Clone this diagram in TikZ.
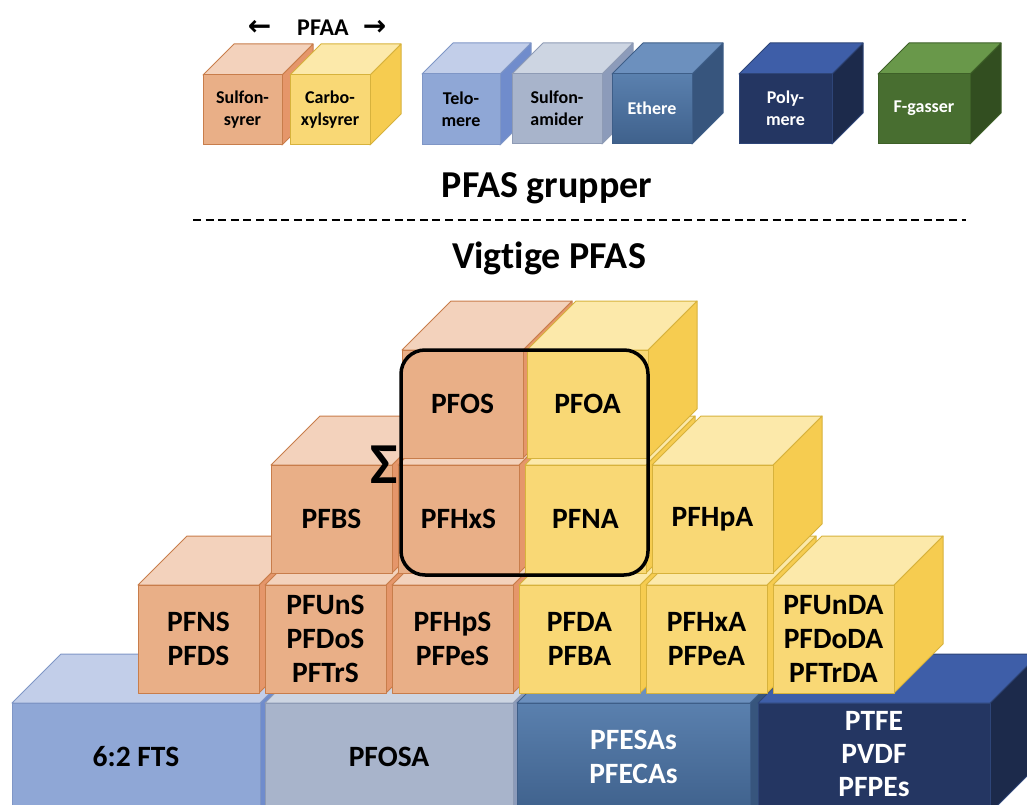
\documentclass[tikz,border=0pt]{standalone}
\usepackage{fontspec}
\setmainfont{Carlito}[Ligatures=NoCommon]
\newfontfamily\arrowfont{DejaVu Sans}

% colour sets: front, top, side, line
\definecolor{sulffront}{HTML}{E9AF87}
\definecolor{sulftop}{HTML}{F3D2BC}
\definecolor{sulfside}{HTML}{E5966A}
\definecolor{sulfline}{HTML}{C87D4B}
\definecolor{carbfront}{HTML}{F9D875}
\definecolor{carbtop}{HTML}{FCE9AA}
\definecolor{carbside}{HTML}{F6CC50}
\definecolor{carbline}{HTML}{D7B23C}
\definecolor{telofront}{HTML}{8FA7D6}
\definecolor{telotop}{HTML}{C2CEE9}
\definecolor{teloside}{HTML}{708CCC}
\definecolor{teloline}{HTML}{7F96C6}
\definecolor{amidfront}{HTML}{A8B4CB}
\definecolor{amidtop}{HTML}{CDD5E2}
\definecolor{amidside}{HTML}{8C9BBA}
\definecolor{amidline}{HTML}{8E9BB5}
\definecolor{ethfront}{HTML}{4B709B}
\definecolor{ethtop}{HTML}{6C90BE}
\definecolor{ethside}{HTML}{37557D}
\definecolor{ethline}{HTML}{3E5E88}
\definecolor{ethlight}{HTML}{5A80AE}
\definecolor{ethdark}{HTML}{3F618C}
\definecolor{polyfront}{HTML}{243662}
\definecolor{polytop}{HTML}{3E5EA8}
\definecolor{polyside}{HTML}{1C2A4B}
\definecolor{polyline}{HTML}{2E4578}
\definecolor{gasfront}{HTML}{486E30}
\definecolor{gastop}{HTML}{69984A}
\definecolor{gasside}{HTML}{324E20}
\definecolor{gasline}{HTML}{3E6028}

% cube: x, y (front top left), width, height, depth, colour set
\newcommand{\drawcube}[6]{%
  \filldraw[fill=#6side, draw=#6line] (#1+#3,#2) -- ++(#5,-#5) -- ++(0,#4) -- ++(-#5,#5) -- cycle;
  \filldraw[fill=#6top, draw=#6line] (#1,#2) -- ++(#5,-#5) -- ++(#3,0) -- ++(-#5,#5) -- cycle;
  \filldraw[fill=#6front, draw=#6line] (#1,#2) rectangle ++(#3,#4);
}

\begin{document}
\begin{tikzpicture}[x=1pt, y=-1pt, line join=round, line width=1pt,
  lbl/.style={align=center, font=\fontsize{29.5}{34}\selectfont\bfseries},
  leg/.style={align=center, font=\fontsize{18}{22}\selectfont\bfseries},
  heading/.style={font=\fontsize{38}{45}\selectfont\bfseries},
  shine/.style={top color=ethlight, bottom color=ethdark, draw=ethline}]
\useasboundingbox (0,0) rectangle (1027,805);
\clip (0,0) rectangle (1027,805);

% PFAS groups
\drawcube{203}{75}{79}{70}{31}{sulf}
\drawcube{290}{75}{80}{70}{31}{carb}
\drawcube{422}{74}{78}{71}{31}{telo}
\drawcube{512}{74}{90}{70}{31}{amid}
\drawcube{612}{74}{80}{70}{31}{eth}
\shadedraw[shine] (612,74) rectangle ++(80,70);
\drawcube{739}{74}{93}{70}{31}{poly}
\drawcube{878}{74}{92}{70}{31}{gas}

\node[leg] (sulfon) at (242.5,110) {Sulfon-\\syrer};
\node[leg] (carbo) at (330,110) {Carbo-\\xylsyrer};
\node[leg] (telo) at (461,109) {Telo-\\mere};
\node[leg] (amid) at (557,108) {Sulfon-\\amider};
\node[leg, text=white] (ether) at (652,108) {Ethere};
\node[leg, text=white] (poly) at (785.5,108) {Poly-\\mere};
\node[leg, text=white] (fgas) at (924,108) {F-gasser};
\node[font=\fontsize{24}{28}\selectfont\bfseries] (pfaa) at (317,28)
  {{\arrowfont\fontsize{28}{30}\selectfont ←}\hspace{26pt}PFAA\hspace{14pt}{\arrowfont\fontsize{28}{30}\selectfont →}};

% Headings and divider
\node[heading] (groups) at (547,188) {PFAS grupper};
\coordinate (divl) at (193,220);
\coordinate (divr) at (966,220);
\draw[line width=2.6pt, dash pattern=on 8pt off 4.6pt] (divl) -- (divr);
\node[heading] (important) at (549,258) {Vigtige PFAS};

% Bottom row
\drawcube{12}{703}{248}{110}{49}{telo}
\drawcube{265}{703}{248}{110}{49}{amid}
\drawcube{517}{703}{233}{110}{49}{eth}
\shadedraw[shine] (517,703) rectangle ++(233,110);
\drawcube{758}{703}{232}{110}{49}{poly}

% Third row
\drawcube{138}{585}{121}{108}{49}{sulf}
\drawcube{265}{585}{121}{108}{49}{sulf}
\drawcube{392}{585}{121}{108}{49}{sulf}
\drawcube{519}{585}{121}{108}{49}{carb}
\drawcube{646}{585}{121}{108}{49}{carb}
\drawcube{773}{585}{121}{108}{49}{carb}

% Second row
\drawcube{271}{465}{121}{108}{49}{sulf}
\drawcube{398}{465}{121}{108}{49}{sulf}
\drawcube{525}{465}{121}{108}{49}{carb}
\drawcube{652}{465}{121}{108}{49}{carb}

% Top row
\drawcube{402}{350}{121}{108}{49}{sulf}
\drawcube{527}{350}{121}{108}{49}{carb}

% Sum frame
\draw[line width=3.5pt, rounded corners=24pt] (401,350) rectangle (648,575);
\node[font=\fontsize{58}{62}\selectfont\bfseries] (sum) at (384,465) {Σ};

% Labels
\node[lbl] (pfos) at (462.5,404) {PFOS};
\node[lbl] (pfoa) at (587.5,404) {PFOA};
\node[lbl] (pfbs) at (331.5,519) {PFBS};
\node[lbl] (pfhxs) at (458.5,519) {PFHxS};
\node[lbl] (pfna) at (585.5,519) {PFNA};
\node[lbl] (pfhpa) at (712.5,519) {PFHpA};
\node[lbl] (pfns) at (198.5,639) {PFNS\\PFDS};
\node[lbl] (pfuns) at (325.5,639) {PFUnS\\PFDoS\\PFTrS};
\node[lbl] (pfhps) at (452.5,639) {PFHpS\\PFPeS};
\node[lbl] (pfda) at (579.5,639) {PFDA\\PFBA};
\node[lbl] (pfhxa) at (706.5,639) {PFHxA\\PFPeA};
\node[lbl] (pfunda) at (833.5,639) {PFUnDA\\PFDoDA\\PFTrDA};
\node[lbl] (fts) at (136,757) {6:2 FTS};
\node[lbl] (pfosa) at (389,757) {PFOSA};
\node[lbl, text=white] (pfesa) at (633.5,757) {PFESAs\\PFECAs};
\node[lbl, text=white, font=\fontsize{29.5}{33}\selectfont\bfseries] (ptfe) at (874,754) {PTFE\\PVDF\\PFPEs};

\end{tikzpicture}
\end{document}
